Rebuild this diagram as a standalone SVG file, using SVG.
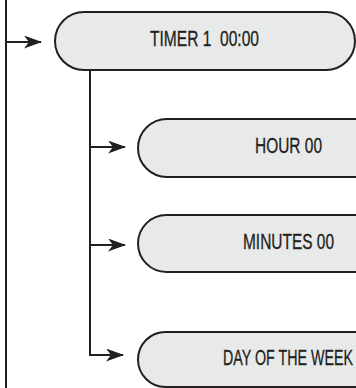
<svg xmlns="http://www.w3.org/2000/svg" width="356" height="388" viewBox="0 0 356 388">
<style>
.node{fill:#e8e9e9;stroke:#231f20;stroke-width:2}
.lbl{font-family:"Liberation Sans",Arial,sans-serif;font-size:21.5px;fill:#231f20;stroke:#231f20;stroke-width:0.3}
.ln{fill:none;stroke:#231f20;stroke-width:2}
</style>
<defs>
<marker id="ah" viewBox="0 0 18 13" refX="17" refY="6.5" markerWidth="18" markerHeight="13" markerUnits="userSpaceOnUse" orient="auto">
<path d="M0,0 L18,6.5 L0,13 L5,6.5 Z" fill="#231f20"/>
</marker>
</defs>
<rect width="356" height="388" fill="#ffffff"/>
<g id="connectors">
<line class="ln" x1="6" y1="0" x2="6" y2="388"/>
<line class="ln" x1="5" y1="42" x2="41" y2="42" marker-end="url(#ah)"/>
<polyline class="ln" points="90,70 90,355 123,355" marker-end="url(#ah)"/>
<line class="ln" x1="90" y1="147" x2="125" y2="147" marker-end="url(#ah)"/>
<line class="ln" x1="90" y1="245" x2="125" y2="245" marker-end="url(#ah)"/>
</g>
<g id="timer">
<rect class="node" x="55" y="12" width="300" height="58" rx="29"/>
<text class="lbl" x="150" y="46" textLength="109" lengthAdjust="spacingAndGlyphs" xml:space="preserve">TIMER 1  00:00</text>
</g>
<g id="hour">
<rect class="node" x="138" y="119" width="300" height="58" rx="29"/>
<text class="lbl" x="255" y="153" textLength="67" lengthAdjust="spacingAndGlyphs">HOUR 00</text>
</g>
<g id="minutes">
<rect class="node" x="138" y="215" width="300" height="57" rx="28.5"/>
<text class="lbl" x="243" y="249" textLength="91" lengthAdjust="spacingAndGlyphs">MINUTES 00</text>
</g>
<g id="day">
<rect class="node" x="138" y="332" width="300" height="55" rx="27.5"/>
<text class="lbl" x="223" y="365" textLength="130" lengthAdjust="spacingAndGlyphs">DAY OF THE WEEK</text>
</g>
</svg>
